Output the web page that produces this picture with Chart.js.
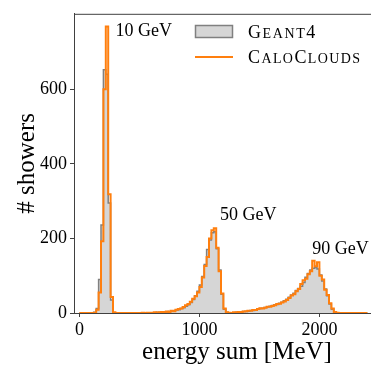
<!DOCTYPE html>
<html>
<head>
<meta charset="utf-8">
<script src="https://cdn.jsdelivr.net/npm/chart.js@4"></script>
<style>
  html, body { margin: 0; padding: 0; background: #fff; }
  #wrap { width: 371px; height: 369px; }
</style>
</head>
<body>
<div id="wrap"><canvas id="grafico" width="371" height="369"></canvas></div>
<script>
// histogram bins: 20 MeV wide, starting at 0 MeV
const BIN_START = 0;
const BIN_WIDTH = 20;

// counts per bin (120 bins, 0 - 2400 MeV)
const GEANT4 = [
  0, 0, 0, 0, 0, 0, 2, 12, 90, 236, 652, 640, 295, 35, 1, 0, 0, 0, 0, 0,
  0, 0, 0, 0, 0, 0, 0, 1, 0, 1, 1, 1, 2, 2, 2, 3, 3, 4, 5, 6,
  8, 9, 12, 14, 18, 22, 28, 36, 46, 58, 75, 98, 130, 170, 196, 215, 218, 172, 115, 50,
  10, 2, 1, 1, 1, 2, 2, 3, 4, 4, 5, 7, 7, 9, 10, 12, 13, 15, 16, 18,
  20, 22, 23, 26, 29, 33, 37, 42, 48, 53, 60, 66, 72, 82, 96, 106, 115, 120, 122, 118,
  102, 86, 64, 46, 24, 10, 3, 1, 0, 0, 0, 0, 0, 0, 0, 0, 0, 0, 0, 0
];
const CALOCLOUDS = [
  0, 0, 0, 0, 0, 0, 1, 9, 55, 192, 600, 768, 318, 43, 2, 0, 0, 0, 0, 0,
  0, 0, 0, 0, 0, 0, 1, 0, 1, 1, 1, 2, 1, 2, 3, 2, 4, 3, 6, 5,
  9, 11, 12, 16, 21, 24, 30, 38, 45, 55, 70, 95, 126, 150, 200, 222, 227, 175, 112, 52,
  12, 2, 1, 0, 2, 2, 3, 3, 4, 5, 6, 6, 8, 8, 11, 13, 12, 14, 17, 17,
  19, 21, 24, 25, 28, 31, 35, 40, 47, 50, 58, 64, 78, 88, 92, 104, 112, 140, 125, 136,
  100, 90, 62, 48, 26, 12, 3, 1, 0, 0, 0, 0, 0, 0, 0, 0, 0, 0, 0, 0
];

const SERIES_NAMES = ['Geant4', 'CaloClouds'];
const PEAK_LABELS = ['10 GeV', '50 GeV', '90 GeV'];
const X_TICKS = [0, 1000, 2000];
const Y_TICKS = [0, 200, 400, 600];

const FONT = '"Liberation Serif", "Times New Roman", serif';
const AXIS_COLOR = '#404040';
const GRAY_FILL = 'rgb(214, 214, 214)';
const GRAY_EDGE = 'rgb(128, 128, 128)';
const ORANGE = '#ff7f0e';

// bin left edges + closing point at the last right edge
function toSteps(counts) {
  const pts = counts.map((c, i) => ({ x: BIN_START + i * BIN_WIDTH, y: c }));
  pts.push({ x: BIN_START + counts.length * BIN_WIDTH, y: 0 });
  return pts;
}

// text placement for the peak labels (data coordinates)
const labelPos = [[300, 742], [1172, 250], [1940, 158]];

// fake small caps: lowercase letters drawn as smaller capitals
function drawSmallCaps(ctx, text, x, y, big, small, gap) {
  for (const ch of text) {
    const low = ch !== ch.toUpperCase();
    ctx.font = (low ? small : big) + 'px ' + FONT;
    const c = ch.toUpperCase();
    ctx.fillText(c, x, y);
    x += ctx.measureText(c).width + gap;
  }
}

const extras = {
  id: 'extras',
  afterDraw(chart) {
    const { ctx, chartArea: a, scales: { x, y } } = chart;
    ctx.save();

    // top spine
    ctx.strokeStyle = AXIS_COLOR;
    ctx.lineWidth = 1;
    ctx.beginPath();
    ctx.moveTo(a.left, a.top + 0.5);
    ctx.lineTo(a.right, a.top + 0.5);
    ctx.stroke();

    // energy labels next to the peaks
    ctx.fillStyle = '#000';
    ctx.textAlign = 'left';
    ctx.textBaseline = 'alphabetic';
    ctx.font = '18px ' + FONT;
    PEAK_LABELS.forEach((t, i) => {
      ctx.fillText(t, x.getPixelForValue(labelPos[i][0]), y.getPixelForValue(labelPos[i][1]));
    });

    // x axis title
    ctx.font = '25px ' + FONT;
    ctx.textAlign = 'center';
    ctx.fillText('energy sum [MeV]', 237, 359);

    // legend
    ctx.textAlign = 'left';
    ctx.fillStyle = GRAY_FILL;
    ctx.fillRect(195, 25, 38, 13);
    ctx.strokeStyle = GRAY_EDGE;
    ctx.lineWidth = 1.5;
    ctx.strokeRect(195.5, 25.5, 37, 12);
    ctx.strokeStyle = ORANGE;
    ctx.lineWidth = 2;
    ctx.beginPath();
    ctx.moveTo(195, 57);
    ctx.lineTo(233, 57);
    ctx.stroke();
    ctx.fillStyle = '#000';
    drawSmallCaps(ctx, SERIES_NAMES[0], 248, 38, 18, 14, 1.6);
    drawSmallCaps(ctx, SERIES_NAMES[1], 248, 63, 18, 14, 1.4);

    ctx.restore();
  }
};

const ctx = document.getElementById('grafico');

new Chart(ctx, {
  type: 'line',
  data: {
    datasets: [
      {
        label: SERIES_NAMES[0],
        data: toSteps(GEANT4),
        stepped: 'before',
        fill: 'origin',
        backgroundColor: GRAY_FILL,
        borderColor: GRAY_EDGE,
        borderWidth: 1.5,
        pointRadius: 0,
        order: 2
      },
      {
        label: SERIES_NAMES[1],
        data: toSteps(CALOCLOUDS),
        stepped: 'before',
        fill: false,
        borderColor: ORANGE,
        borderWidth: 2,
        pointRadius: 0,
        order: 1
      }
    ]
  },
  options: {
    responsive: false,
    animation: false,
    layout: { padding: { top: 7, left: 0, right: 0, bottom: 0 } },
    plugins: {
      legend: { display: false },
      tooltip: { enabled: false }
    },
    scales: {
      x: {
        type: 'linear',
        min: -45,
        max: 2430,
        afterBuildTicks: (scale) => { scale.ticks = X_TICKS.map(v => ({ value: v })); },
        afterFit: (scale) => { scale.height = 56; },
        grid: { display: true, drawOnChartArea: false, drawTicks: true, tickLength: 4, tickColor: AXIS_COLOR },
        border: { display: true, color: AXIS_COLOR, width: 1 },
        ticks: {
          color: '#000',
          padding: 2,
          maxRotation: 0,
          font: { family: FONT, size: 18 },
          callback: (v) => String(v)
        }
      },
      y: {
        min: 0,
        max: 802,
        afterBuildTicks: (scale) => { scale.ticks = Y_TICKS.map(v => ({ value: v })); },
        afterFit: (scale) => { scale.width = 74; },
        grid: { display: true, drawOnChartArea: false, drawTicks: true, tickLength: 4, tickColor: AXIS_COLOR },
        border: { display: true, color: AXIS_COLOR, width: 1 },
        ticks: { color: '#000', padding: 3, font: { family: FONT, size: 18 }, callback: (v) => String(v) },
        title: {
          display: true,
          text: '# showers',
          color: '#000',
          padding: { top: 12, bottom: 0 },
          font: { family: FONT, size: 25 }
        }
      }
    }
  },
  plugins: [extras]
});
</script>
</body>
</html>
